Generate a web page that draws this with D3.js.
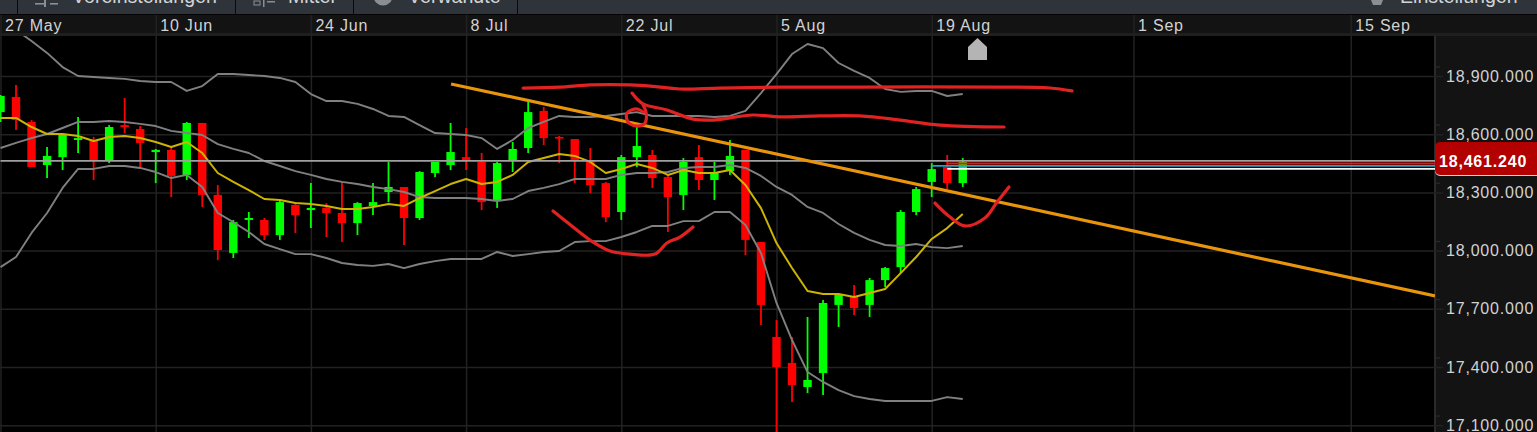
<!DOCTYPE html>
<html>
<head>
<meta charset="utf-8">
<script src="https://cdn.jsdelivr.net/npm/d3@7"></script>
<style>
html,body{margin:0;padding:0;background:#000;overflow:hidden}
svg{display:block}
text{font-family:"Liberation Sans",Arial,sans-serif}
</style>
</head>
<body>
<svg id="c" width="1537" height="432"></svg>
<script>
// ---- data ----
const dateIndex  = [0,10,20,30,40,50,60,73,87];
const dateLabels = ["27 May","10 Jun","24 Jun","8 Jul","22 Jul","5 Aug","19 Aug","1 Sep","15 Sep"];
const priceTicks = [18900,18600,18300,18000,17700,17400,17100];
const toolbarLabels = ["Voreinstellungen","Mittel","Verwandte","Einstellungen"];

const highs = [18802,18854,18673,18534,18601,18689,18586,18647,18787,18642,18524,18534,18663,18658,18338,18158,18199,18168,18261,18240,18348,18245,18354,18250,18348,18457,18328,18410,18457,18658,18632,18503,18457,18560,18766,18740,18591,18575,18529,18354,18493,18637,18519,18390,18477,18544,18457,18570,18519,18044,17642,17555,17658,17745,17781,17823,17859,17915,18209,18328,18451,18493,18477];
const bodyTops = [18797,18792,18663,18488,18596,18580,18570,18637,18647,18627,18519,18519,18658,18658,18287,18147,18168,18158,18250,18235,18220,18220,18194,18245,18250,18328,18328,18405,18457,18508,18482,18457,18451,18524,18714,18720,18586,18575,18467,18348,18482,18539,18493,18379,18457,18482,18400,18488,18519,18044,17555,17421,17333,17730,17771,17766,17848,17910,18199,18317,18420,18431,18457];
const bodyBottoms = [18714,18673,18431,18441,18482,18570,18467,18467,18637,18555,18508,18385,18390,18287,18003,17988,18158,18080,18080,18183,18209,18194,18142,18142,18230,18302,18168,18168,18400,18441,18462,18250,18261,18462,18529,18580,18580,18467,18338,18173,18199,18482,18374,18276,18287,18364,18364,18410,18055,17720,17400,17307,17297,17369,17720,17704,17720,17848,17915,18199,18354,18348,18348];
const lows = [18663,18622,18431,18374,18415,18503,18364,18451,18606,18431,18348,18276,18364,18225,17951,17962,18065,18055,18055,18091,18116,18070,18044,18080,18183,18250,18029,18158,18379,18415,18415,18209,18220,18405,18503,18544,18451,18348,18297,18147,18158,18431,18323,18096,18209,18312,18261,18390,17977,17616,17065,17219,17266,17256,17606,17668,17658,17812,17884,18183,18276,18317,18328];
const rising = [1,0,0,1,1,1,0,1,0,0,1,0,1,0,0,1,1,0,1,0,1,0,0,1,1,1,0,1,1,1,0,0,1,1,1,0,0,0,0,0,1,1,0,0,1,0,1,1,0,0,0,0,1,1,1,0,1,1,1,1,1,0,1];

const bandUpper = [19189,19137,19080,19019,18946,18900,18895,18890,18885,18874,18869,18869,18823,18848,18910,18910,18905,18900,18890,18869,18807,18771,18771,18756,18730,18694,18689,18647,18606,18601,18596,18580,18524,18570,18632,18663,18694,18689,18689,18694,18704,18714,18694,18694,18694,18694,18689,18694,18720,18812,18910,19013,19065,19044,18967,18926,18890,18833,18818,18823,18823,18797,18807];
const bandMiddle = [18529,18555,18580,18601,18632,18663,18663,18668,18663,18653,18642,18617,18606,18596,18549,18524,18503,18462,18436,18410,18390,18369,18354,18343,18328,18317,18302,18276,18271,18271,18271,18266,18256,18266,18307,18323,18343,18369,18369,18369,18390,18400,18400,18405,18426,18431,18431,18441,18426,18385,18328,18287,18225,18194,18137,18091,18055,18029,18024,18034,18018,18013,18024];
const bandLower = [17915,17967,18091,18194,18323,18421,18421,18436,18436,18426,18405,18374,18390,18328,18194,18147,18096,18034,18008,17982,17982,17962,17936,17926,17921,17931,17910,17931,17946,17957,17957,17957,17993,17972,17982,17993,17998,18044,18049,18049,18070,18096,18127,18127,18152,18152,18199,18199,18132,17988,17730,17539,17374,17323,17281,17250,17235,17225,17225,17225,17225,17245,17235];
const average = [18684,18684,18637,18601,18601,18591,18565,18586,18591,18580,18560,18534,18560,18503,18400,18354,18312,18266,18261,18245,18240,18230,18214,18214,18225,18240,18230,18271,18307,18343,18369,18343,18354,18390,18457,18477,18498,18488,18457,18400,18421,18446,18426,18390,18415,18400,18400,18415,18338,18219,18039,17910,17792,17776,17776,17761,17781,17802,17884,17967,18060,18116,18189];

// drawn trend line and hand-drawn red strokes: [bar index, price]
const trendLine = [[29.03,18859],[92.43,17766]];
const strokeTop = [[33.67,18838],[36.05,18843],[37.98,18854],[40.56,18854],[42.49,18843],[43.78,18833],[46.36,18838],[50.22,18843],[55.38,18843],[64.40,18843],[67.62,18838],[69.04,18823]];
const strokeSecond = [[40.69,18812],[41.40,18756],[42.94,18725],[44.62,18678],[45.91,18673],[48.48,18699],[50.22,18689],[52.80,18694],[55.38,18694],[57.95,18673],[60.53,18647],[64.66,18637]];
const strokeLoop = [[41.40,18751],[41.59,18714],[41.53,18658],[41.01,18642],[40.43,18663],[40.37,18709],[41.01,18730],[41.40,18714]];
const strokeCup = [[35.60,18204],[36.89,18122],[38.18,18044],[39.27,17998],[40.56,17982],[42.17,17982],[42.94,18039],[43.78,18070],[44.62,18122]];
const strokeHook = [[60.21,18245],[61.18,18173],[62.15,18127],[63.43,18168],[64.21,18250],[64.98,18328]];

const lastPrice = 18461.24;
const refLines = [
  {price:18462, from:0,  color:"#a0a0a0"},
  {price:18449, from:61, color:"#ff0d0d"},
  {price:18437, from:60, color:"#18a8c8"},
  {price:18421, from:61, color:"#ffffff"}
];

// ---- layout ----
const W = 1537, H = 432, plotRight = 1435, plotTop = 36;
const x = d3.scaleLinear().domain([0,100]).range([0.5,1552.5]);
const y = d3.scaleLinear().domain([18900,17100]).range([76,425.2]);
const svg = d3.select("#c");

svg.append("rect").attr("width",W).attr("height",H).attr("fill","#000");
// toolbar
svg.append("rect").attr("width",W).attr("height",14).attr("fill","#2e343a");
svg.append("rect").attr("y",14).attr("width",W).attr("height",1.2).attr("fill","#050505");
svg.selectAll(".sep").data([17,235,353,517]).join("rect").attr("x",d=>d).attr("y",0).attr("width",1).attr("height",14).attr("fill","#0a0a0a");
svg.selectAll(".tb").data(toolbarLabels).join("text")
  .attr("x",(d,i)=>[72,288,408,1400][i]).attr("y",3).attr("fill","#d4d4d4")
  .attr("font-size",19.6).text(d=>d);
// toolbar icons
const ic = svg.append("g").attr("fill","#8a8f94");
ic.append("rect").attr("x",35).attr("y",3).attr("width",11).attr("height",1.6);
ic.append("rect").attr("x",50).attr("y",3).attr("width",8).attr("height",1.6);
ic.append("rect").attr("x",44).attr("y",0).attr("width",2).attr("height",7);
ic.append("rect").attr("x",254).attr("y",1).attr("width",6).attr("height",4).attr("fill","none").attr("stroke","#8a8f94");
ic.append("rect").attr("x",263).attr("y",0).attr("width",1.5).attr("height",7);
ic.append("rect").attr("x",267).attr("y",1).attr("width",8).attr("height",1.5);
ic.append("circle").attr("cx",383).attr("cy",-4).attr("r",9.5);
ic.append("path").attr("d","M1371 0 L1373 5 L1381 5 L1383 0 Z");

// date bar and price panel
svg.append("rect").attr("y",15).attr("width",W).attr("height",18).attr("fill","#131313");
svg.append("rect").attr("y",33).attr("width",W).attr("height",3).attr("fill","#1f1f1f");
svg.append("rect").attr("x",plotRight).attr("y",36).attr("width",W-plotRight).attr("height",H-36).attr("fill","#131313");
svg.append("rect").attr("x",plotRight-1).attr("y",36).attr("width",2).attr("height",H-36).attr("fill","#2a2a2a");

// date axis + vertical grid
const xAxis = d3.axisBottom(x).tickValues(dateIndex).tickFormat((d,i)=>dateLabels[i]).tickSize(H-15).tickPadding(0);
const xG = svg.append("g").attr("transform","translate(0,15)").call(xAxis);
xG.select(".domain").remove();
xG.selectAll("line").attr("stroke","#222").attr("stroke-width",1.5);
xG.selectAll("text").attr("y",0).attr("dy",0).attr("transform","translate(4,16)")
  .attr("text-anchor","start").attr("fill","#d2d2d2").attr("font-size",16)
  .attr("letter-spacing",0.8).attr("font-family","Liberation Sans");

// price axis + horizontal grid
const fmt = d3.format(",.3f");
const yAxis = d3.axisRight(y).tickValues(priceTicks).tickFormat(fmt).tickSize(1443).tickPadding(3);
const yG = svg.append("g").call(yAxis);
yG.select(".domain").remove();
yG.selectAll("line").attr("stroke","#222").attr("stroke-width",1.5);
yG.selectAll("text").attr("fill","#d2d2d2").attr("font-size",16)
  .attr("letter-spacing",0.8).attr("font-family","Liberation Sans");
// minor ticks on price axis
svg.selectAll(".minor").data(priceTicks).join("rect").attr("x",plotRight).attr("y",d=>y(d+50)).attr("width",5).attr("height",1.2).attr("fill","#2a2a2a");

// candles
const idx = d3.range(highs.length);
const plot = svg.append("g");
const col = i => rising[i] ? "#00ff00" : "#ff0000";
plot.selectAll(".wick").data(idx).join("line")
  .attr("x1",i=>x(i)).attr("x2",i=>x(i)).attr("y1",i=>y(highs[i])).attr("y2",i=>y(lows[i]))
  .attr("stroke",col).attr("stroke-width",1.8);
plot.selectAll(".body").data(idx).join("rect")
  .attr("x",i=>x(i)-4.2).attr("width",8.4)
  .attr("y",i=>y(bodyTops[i])).attr("height",i=>Math.max(1.7,y(bodyBottoms[i])-y(bodyTops[i])))
  .attr("fill",col);

// clip indicators to plot
svg.append("clipPath").attr("id","pc").append("rect").attr("x",0).attr("y",plotTop).attr("width",plotRight).attr("height",H-plotTop);
const over = svg.append("g").attr("clip-path","url(#pc)");
const line = d3.line().x((d,i)=>x(i)).y(d=>y(d));
[bandUpper,bandMiddle,bandLower].forEach(s=>{
  over.append("path").attr("d",line(s)).attr("fill","none").attr("stroke","#808080").attr("stroke-width",1.9).attr("stroke-linejoin","round");
});
over.append("path").attr("d",line(average)).attr("fill","none").attr("stroke","#cdb400").attr("stroke-width",2).attr("stroke-linejoin","round");

// reference price lines
over.selectAll(".ref").data(refLines).join("line")
  .attr("x1",d=>x(d.from)).attr("x2",plotRight).attr("y1",d=>y(d.price)).attr("y2",d=>y(d.price))
  .attr("stroke",d=>d.color).attr("stroke-width",1.8);

// drawings
const pen = d3.line().x(d=>x(d[0])).y(d=>y(d[1]));
over.append("path").attr("d",pen(trendLine)).attr("fill","none").attr("stroke","#e8950c").attr("stroke-width",3.2);
const smooth = d3.line().x(d=>x(d[0])).y(d=>y(d[1])).curve(d3.curveCatmullRom);
[strokeTop,strokeSecond,strokeLoop,strokeCup,strokeHook].forEach(s=>{
  over.append("path").attr("d",smooth(s)).attr("fill","none").attr("stroke","#e02222").attr("stroke-width",3.2).attr("stroke-linecap","round");
});

// marker under 19 Aug
svg.append("path").attr("d","M968 60 V47 L977.5 38 L987 47 V60 Z").attr("fill","#b4b4b4");

// last price tag
svg.append("rect").attr("x",plotRight).attr("y",144).attr("width",W-plotRight+8).attr("height",32).attr("rx",5).attr("fill","#d8d8d8");
svg.append("rect").attr("x",plotRight).attr("y",142).attr("width",W-plotRight+8).attr("height",33).attr("rx",5).attr("fill","#b30000");
svg.append("text").attr("x",1439).attr("y",y(lastPrice)+5.5).attr("fill","#fff").attr("font-weight","bold")
  .attr("font-size",16).attr("letter-spacing",0.8).text(fmt(lastPrice));
</script>
</body>
</html>
